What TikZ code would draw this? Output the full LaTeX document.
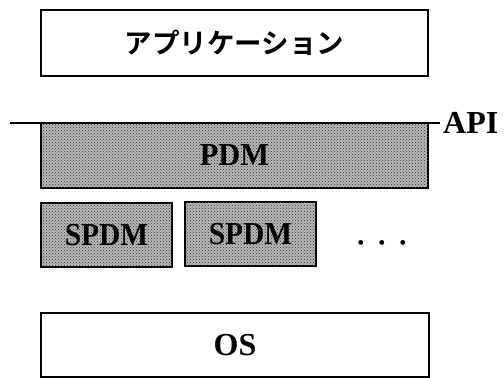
\documentclass[tikz,border=0pt]{standalone}
\usepackage{fontspec}
\setmainfont{Liberation Serif}
\newfontfamily\jpfont{Noto Sans CJK JP}[BoldFont={Noto Sans CJK JP Bold}]
\usetikzlibrary{patterns}
\tikzset{
  layerbox/.style={draw=black, line width=1.4pt, rectangle, inner sep=0pt},
  shaded/.style={layerbox, fill=black!28, postaction={pattern=crosshatch dots, pattern color=black!80}},
  lbl/.style={font=\fontsize{32}{32}\selectfont\bfseries},
}
\begin{document}
\begin{tikzpicture}[x=1pt,y=-1pt]
\useasboundingbox (0,0) rectangle (504,378);
\node[layerbox, minimum width=387pt, minimum height=66pt, font=\jpfont\bfseries\fontsize{27.5}{27.5}\selectfont] (app) at (234.5,43) {アプリケーション};
\node[shaded, lbl, minimum width=387pt, minimum height=65pt] (pdm) at (234.5,155.5) {\scalebox{0.95}[1]{PDM}};
\node[shaded, lbl, minimum width=131pt, minimum height=64pt] (spdm1) at (106.5,235) {\scalebox{0.92}[1]{SPDM}};
\node[shaded, lbl, minimum width=131pt, minimum height=64pt] (spdm2) at (250.5,234) {\scalebox{0.92}[1]{SPDM}};
\node[font=\fontsize{20}{20}\selectfont, inner sep=0pt] (dots) at (382,245) {\textbullet\hspace{14pt}\textbullet\hspace{14pt}\textbullet};
\node[layerbox, lbl, minimum width=388pt, minimum height=64pt] (os) at (235,345) {OS};
\coordinate (apil) at (10,123);
\coordinate (apir) at (440,123);
\draw[line width=2.6pt] (apil) -- (apir);
\node[lbl, anchor=west, inner sep=0pt, xshift=3pt] (api) at (apir) {API};
\end{tikzpicture}
\end{document}
